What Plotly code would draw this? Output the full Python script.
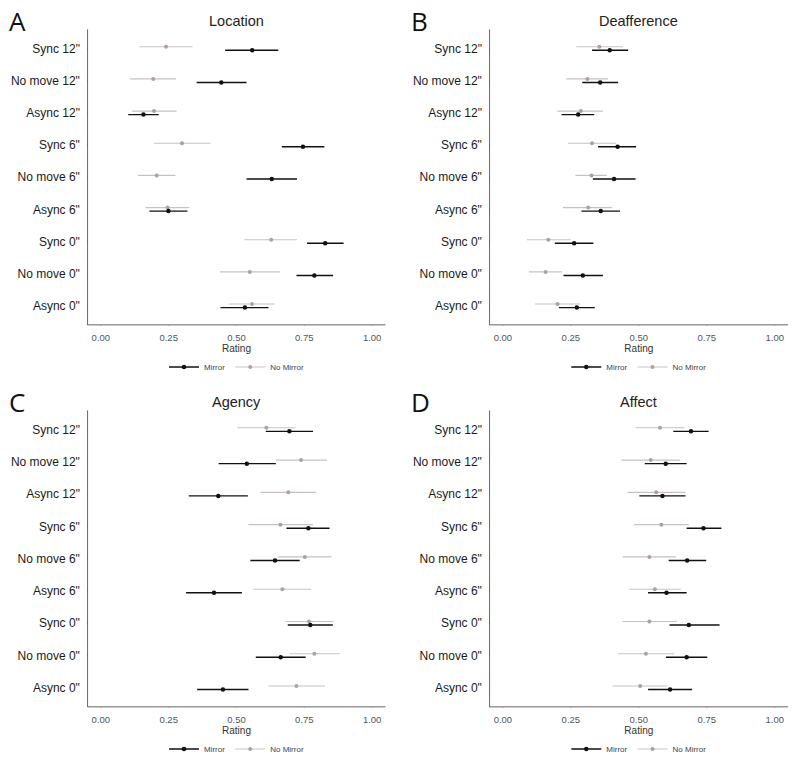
import plotly.graph_objects as go
from plotly.subplots import make_subplots

# Categories listed from top to bottom
categories = ['Sync 12"', 'No move 12"', 'Async 12"', 'Sync 6"', 'No move 6"',
              'Async 6"', 'Sync 0"', 'No move 0"', 'Async 0"']
panel_titles = ["Location", "Deafference", "Agency", "Affect"]
panel_letters = ["A", "B", "C", "D"]
x_ticks = [0.0, 0.25, 0.5, 0.75, 1.0]
x_tick_labels = ["0.00", "0.25", "0.50", "0.75", "1.00"]

# Location
loc_mirror = [0.558, 0.444, 0.157, 0.745, 0.630, 0.249, 0.827, 0.787, 0.531]
loc_mirror_lo = [0.458, 0.353, 0.101, 0.667, 0.537, 0.179, 0.760, 0.721, 0.441]
loc_mirror_hi = [0.654, 0.537, 0.213, 0.824, 0.723, 0.319, 0.895, 0.856, 0.618]
loc_nomirror = [0.240, 0.193, 0.196, 0.299, 0.206, 0.246, 0.628, 0.549, 0.557]
loc_nomirror_lo = [0.142, 0.108, 0.115, 0.196, 0.137, 0.164, 0.529, 0.439, 0.471]
loc_nomirror_hi = [0.338, 0.277, 0.279, 0.404, 0.275, 0.326, 0.723, 0.660, 0.642]

# Deafference
dea_mirror = [0.393, 0.358, 0.277, 0.422, 0.409, 0.360, 0.262, 0.294, 0.272]
dea_mirror_lo = [0.328, 0.292, 0.216, 0.350, 0.331, 0.289, 0.191, 0.223, 0.206]
dea_mirror_hi = [0.461, 0.424, 0.336, 0.490, 0.488, 0.431, 0.333, 0.368, 0.338]
dea_nomirror = [0.355, 0.311, 0.287, 0.328, 0.326, 0.314, 0.167, 0.157, 0.201]
dea_nomirror_lo = [0.270, 0.233, 0.201, 0.240, 0.267, 0.221, 0.088, 0.096, 0.118]
dea_nomirror_hi = [0.441, 0.387, 0.368, 0.417, 0.382, 0.402, 0.250, 0.218, 0.284]

# Agency
age_mirror = [0.695, 0.538, 0.433, 0.765, 0.642, 0.417, 0.772, 0.663, 0.450]
age_mirror_lo = [0.608, 0.434, 0.324, 0.684, 0.551, 0.314, 0.689, 0.571, 0.355]
age_mirror_hi = [0.782, 0.645, 0.542, 0.843, 0.733, 0.520, 0.855, 0.755, 0.544]
age_nomirror = [0.610, 0.738, 0.691, 0.662, 0.752, 0.669, 0.767, 0.787, 0.721]
age_nomirror_lo = [0.502, 0.645, 0.588, 0.544, 0.654, 0.564, 0.679, 0.696, 0.618]
age_nomirror_hi = [0.718, 0.833, 0.794, 0.782, 0.850, 0.775, 0.858, 0.880, 0.826]

# Affect
aff_mirror = [0.692, 0.599, 0.587, 0.738, 0.678, 0.602, 0.684, 0.676, 0.615]
aff_mirror_lo = [0.627, 0.522, 0.502, 0.676, 0.610, 0.534, 0.613, 0.600, 0.534]
aff_mirror_hi = [0.757, 0.676, 0.672, 0.804, 0.748, 0.676, 0.797, 0.752, 0.696]
aff_nomirror = [0.578, 0.544, 0.564, 0.583, 0.539, 0.559, 0.539, 0.526, 0.505]
aff_nomirror_lo = [0.488, 0.436, 0.458, 0.483, 0.441, 0.466, 0.441, 0.424, 0.404]
aff_nomirror_hi = [0.669, 0.652, 0.672, 0.684, 0.637, 0.654, 0.640, 0.630, 0.605]

panels = [
    (loc_mirror, loc_mirror_lo, loc_mirror_hi, loc_nomirror, loc_nomirror_lo, loc_nomirror_hi),
    (dea_mirror, dea_mirror_lo, dea_mirror_hi, dea_nomirror, dea_nomirror_lo, dea_nomirror_hi),
    (age_mirror, age_mirror_lo, age_mirror_hi, age_nomirror, age_nomirror_lo, age_nomirror_hi),
    (aff_mirror, aff_mirror_lo, aff_mirror_hi, aff_nomirror, aff_nomirror_lo, aff_nomirror_hi),
]

W, H = 800, 764
FONT = "Liberation Sans, Arial, sans-serif"
MIRROR_COL = "#111111"
NOMIRROR_COL = "#c9c1c1"
NOMIRROR_DOT = "#aaa2a2"
AXIS_COL = "#333333"

# pixel-based layout of the four plot areas: (left, right, top, bottom)
areas = [(87.3, 385.7, 29.3, 326.0), (489.3, 788.3, 29.3, 326.0),
         (87.3, 385.7, 411.3, 709.0), (489.3, 788.3, 411.3, 709.0)]

n = len(categories)
ypos = [n - i for i in range(n)]  # top category gets highest position
dodge = 0.055
x_range = [-0.05, 1.05]
y_range = [0.4, n + 0.6]

fig = make_subplots(rows=2, cols=2)
annotations = []

for k, (m, mlo, mhi, nm, nmlo, nmhi) in enumerate(panels):
    r, c = k // 2 + 1, k % 2 + 1
    legend_name = "legend" if k == 0 else "legend" + str(k + 1)
    left, right, top, bottom = areas[k]
    pw, ph = right - left, bottom - top
    # data units per pixel (used only for tick-mark lengths)
    dx = (x_range[1] - x_range[0]) / pw
    dy = (y_range[1] - y_range[0]) / ph

    # axis frame (left and bottom lines) drawn along the axis range
    fig.add_trace(go.Scatter(x=[x_range[0], x_range[0], x_range[1]],
                             y=[y_range[1], y_range[0], y_range[0]], mode="lines",
                             line=dict(color=AXIS_COL, width=1.5), cliponaxis=False,
                             showlegend=False, hoverinfo="skip"), row=r, col=c)
    # x tick marks
    fig.add_trace(go.Scatter(x=x_ticks, y=[y_range[0]] * len(x_ticks), mode="markers",
                             marker=dict(size=1, color="rgba(0,0,0,0)"),
                             error_y=dict(type="constant", value=0, valueminus=3.5 * dy, symmetric=False,
                                          color=AXIS_COL, thickness=1.3, width=0),
                             cliponaxis=False, showlegend=False, hoverinfo="skip"), row=r, col=c)
    # y tick marks
    fig.add_trace(go.Scatter(x=[x_range[0]] * n, y=ypos, mode="markers",
                             marker=dict(size=1, color="rgba(0,0,0,0)"),
                             error_x=dict(type="constant", value=0, valueminus=4.5 * dx, symmetric=False,
                                          color=AXIS_COL, thickness=1.3, width=0),
                             cliponaxis=False, showlegend=False, hoverinfo="skip"), row=r, col=c)

    # No Mirror (upper, light grey)
    fig.add_trace(go.Scatter(
        x=nm, y=[p + dodge for p in ypos], mode="markers",
        marker=dict(color=NOMIRROR_DOT, size=4),
        error_x=dict(type="data", array=[h - v for h, v in zip(nmhi, nm)],
                     arrayminus=[v - l for l, v in zip(nmlo, nm)],
                     color=NOMIRROR_COL, thickness=1.1, width=0),
        showlegend=False, hoverinfo="x+y"), row=r, col=c)
    # Mirror (lower, black)
    fig.add_trace(go.Scatter(
        x=m, y=[p - dodge for p in ypos], mode="markers",
        marker=dict(color=MIRROR_COL, size=4.5),
        error_x=dict(type="data", array=[h - v for h, v in zip(mhi, m)],
                     arrayminus=[v - l for l, v in zip(mlo, m)],
                     color=MIRROR_COL, thickness=1.4, width=0),
        showlegend=False, hoverinfo="x+y"), row=r, col=c)

    # legend entries
    fig.add_trace(go.Scatter(x=[None], y=[None], mode="lines+markers", name="Mirror",
                             line=dict(color=MIRROR_COL, width=1.4),
                             marker=dict(color=MIRROR_COL, size=4.5),
                             legend=legend_name), row=r, col=c)
    fig.add_trace(go.Scatter(x=[None], y=[None], mode="lines+markers", name="No Mirror",
                             line=dict(color=NOMIRROR_COL, width=1.1),
                             marker=dict(color=NOMIRROR_DOT, size=4),
                             legend=legend_name), row=r, col=c)

    fig.update_xaxes(domain=[left / W, right / W], range=x_range,
                     tickvals=x_ticks, ticktext=x_tick_labels,
                     showgrid=False, zeroline=False, showline=False,
                     ticks="outside", ticklen=3, tickcolor="rgba(0,0,0,0)",
                     tickfont=dict(size=9.5, color="#555"),
                     title=dict(text="Rating", font=dict(size=10, color="#333"), standoff=2),
                     fixedrange=True, row=r, col=c)
    fig.update_yaxes(domain=[1 - bottom / H, 1 - top / H], range=y_range,
                     tickvals=ypos, ticktext=categories,
                     showgrid=False, zeroline=False, showline=False,
                     ticks="outside", ticklen=4, tickcolor="rgba(0,0,0,0)",
                     tickfont=dict(size=12, color="#1a1a1a"),
                     fixedrange=True, row=r, col=c)

    fig.update_layout({legend_name: dict(orientation="h", x=(left + right) / 2 / W, xanchor="center",
                                         y=1 - (bottom + 42) / H, yanchor="middle",
                                         font=dict(size=8, color="#444"), itemwidth=30,
                                         bgcolor="rgba(0,0,0,0)", tracegroupgap=0)})

    annotations.append(dict(text=panel_titles[k], x=(left + right) / 2 / W, y=1 - (top - 8) / H,
                            xref="paper", yref="paper", xanchor="center", yanchor="middle",
                            showarrow=False, font=dict(size=14.5, color="#222", family=FONT)))
    annotations.append(dict(text=panel_letters[k], x=(left - 80) / W, y=1 - (top - 8) / H,
                            xref="paper", yref="paper", xanchor="left", yanchor="middle",
                            showarrow=False,
                            font=dict(size=26, color="#111", family="Open Sans, sans-serif")))

fig.update_layout(width=W, height=H, margin=dict(l=0, r=0, t=0, b=0, pad=0),
                  paper_bgcolor="white", plot_bgcolor="white", showlegend=True,
                  font=dict(family=FONT, color="#222"), annotations=annotations)
fig.write_html("out.html", config={"displayModeBar": False},
               post_script="document.body.style.margin='0px';document.body.style.overflow='hidden';")
